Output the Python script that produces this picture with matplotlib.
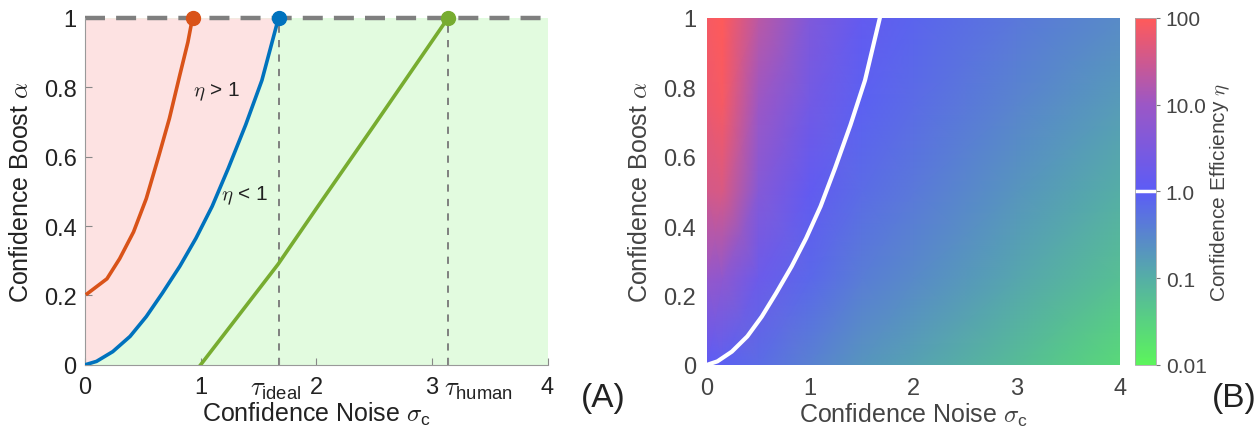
import numpy as np
import matplotlib
matplotlib.use("Agg")
import matplotlib.pyplot as plt
from matplotlib.colors import LinearSegmentedColormap, LogNorm

plt.rcParams['font.family'] = ['Liberation Sans', 'DejaVu Sans']
plt.rcParams['mathtext.fontset'] = 'cm'

# ---------------- data ----------------
# Panel A: boundary curves (sigma_c, alpha)
red_sigma = [0.02, 0.19, 0.30, 0.42, 0.53, 0.64, 0.73, 0.82, 0.89, 0.93]
red_alpha = [0.205, 0.248, 0.306, 0.383, 0.479, 0.604, 0.71, 0.835, 0.93, 1.0]
blue_sigma = [0.0, 0.10, 0.24, 0.39, 0.53, 0.67, 0.82, 0.96, 1.10, 1.24, 1.39, 1.53, 1.674]
blue_alpha = [0.0, 0.01, 0.038, 0.082, 0.139, 0.207, 0.284, 0.365, 0.457, 0.567, 0.692, 0.82, 1.0]
green_sigma = [1.0, 1.67, 2.0, 2.5, 3.14]
green_alpha = [0.0, 0.29, 0.45, 0.69, 1.0]
tau_ideal = 1.674
tau_human = 3.14
x_ticks = [0, 1, 2, 3, 4]
y_ticks = [0, 0.2, 0.4, 0.6, 0.8, 1]
y_ticklabels = ['0', '0.2', '0.4', '0.6', '0.8', '1']

# Panel B: log10 confidence efficiency on a coarse grid
grid_sigma = [0.0, 0.15, 0.5, 1.0, 1.5, 2.0, 3.0, 4.0]
grid_alpha = [0.0, 0.25, 0.5, 0.75, 1.0]
log_eta = [
    [0.0, -0.05, -0.2, -0.45, -0.7, -0.85, -1.2, -1.6],
    [0.9, 0.8, 0.25, -0.15, -0.4, -0.55, -0.9, -1.25],
    [1.55, 1.6, 0.65, 0.1, -0.2, -0.35, -0.7, -1.0],
    [1.8, 1.9, 1.0, 0.35, -0.05, -0.2, -0.5, -0.78],
    [1.9, 2.0, 1.3, 0.55, 0.12, -0.1, -0.33, -0.57],
]
cbar_ticks = [0.01, 0.1, 1.0, 10.0, 100]
cbar_ticklabels = ['0.01', '0.1', '1.0', '10.0', '100']

# ---------------- figure ----------------
fig = plt.figure(figsize=(12.57, 4.35), dpi=100)
axA = fig.add_axes([0.0676, 0.159, 0.368, 0.7977])
axB = fig.add_axes([0.5625, 0.159, 0.3285, 0.7977])
cax = fig.add_axes([0.903, 0.159, 0.0167, 0.7977])

RED = '#D95319'
BLUE = '#0072BD'
GREEN = '#77AC30'
PINK = '#FDE2E2'
LGREEN = '#E2FBDF'
TXT = '#222222'

# ---- Panel A ----
axA.fill_between([0, 4], 0, 1, color=LGREEN, zorder=0, lw=0)
axA.fill_betweenx(blue_alpha, 0, blue_sigma, color=PINK, zorder=0.5, lw=0)
axA.axvline(tau_ideal, color='#777777', ls=(0, (4, 4)), lw=1.3, zorder=1)
axA.axvline(tau_human, color='#777777', ls=(0, (4, 4)), lw=1.3, zorder=1)
axA.plot([0, 4], [1, 1], color='#7f7f7f', ls=(0, (4.5, 2.5)), lw=3.2, zorder=2, clip_on=False)
axA.plot(red_sigma, red_alpha, color=RED, lw=2.6, zorder=3)
axA.plot(blue_sigma, blue_alpha, color=BLUE, lw=2.6, zorder=3)
axA.plot(green_sigma, green_alpha, color=GREEN, lw=2.6, zorder=3)
for xs, ys, c in [(red_sigma, red_alpha, RED), (blue_sigma, blue_alpha, BLUE),
                  (green_sigma, green_alpha, GREEN)]:
    axA.plot(xs[-1], ys[-1], 'o', color=c, ms=10, zorder=4, clip_on=False)
axA.set_xlim(0, 4)
axA.set_ylim(0, 1)
axA.set_xticks(x_ticks + [tau_ideal, tau_human])
axA.set_xticklabels([str(t) for t in x_ticks] + ['', ''])
axA.set_yticks(y_ticks)
axA.set_yticklabels(y_ticklabels)
axA.tick_params(direction='in', length=5, color='#888888', labelsize=17, labelcolor=TXT)
axA.tick_params(axis='x', pad=8)
axA.tick_params(axis='y', pad=6)
for s in ['top', 'right']:
    axA.spines[s].set_visible(False)
for s in ['left', 'bottom']:
    axA.spines[s].set_color('#999999')
    axA.spines[s].set_linewidth(0.8)
axA.annotate(r'$\tau_{\mathregular{ideal}}$', xy=(tau_ideal, 0), xycoords='data',
             xytext=(-2, -8.5), textcoords='offset points', ha='center', va='top',
             fontsize=19, color=TXT)
axA.annotate(r'$\tau_{\mathregular{human}}$', xy=(tau_human, 0), xycoords='data',
             xytext=(-3, -8.5), textcoords='offset points', ha='left', va='top',
             fontsize=19, color=TXT)
axA.text(0.93, 0.79, r'$\eta$ > 1', fontsize=15, color=TXT, va='center')
axA.text(1.18, 0.49, r'$\eta$ < 1', fontsize=15, color=TXT, va='center')
axA.set_xlabel(r'Confidence Noise $\sigma_{\mathregular{c}}$', fontsize=18, color=TXT, labelpad=1)
axA.set_ylabel(r'Confidence Boost $\alpha$', fontsize=18, color=TXT, labelpad=8)
fig.text(0.462, 0.048, '(A)', fontsize=24, color=TXT, ha='left', va='bottom')

# ---- Panel B ----
cmap = LinearSegmentedColormap.from_list('eff', [
    (0.0, '#5CF45C'), (0.25, '#55AEA6'), (0.5, '#5C5CF6'),
    (0.75, '#9B57C6'), (1.0, '#FF5A5A')])
norm = LogNorm(vmin=0.01, vmax=100)
S, A = np.meshgrid(grid_sigma, grid_alpha)
eta = 10.0 ** np.array(log_eta)
mesh = axB.pcolormesh(S, A, eta, cmap=cmap, norm=norm, shading='gouraud', rasterized=True)
axB.plot(blue_sigma, blue_alpha, color='white', lw=3, zorder=3)
axB.set_xlim(0, 4)
axB.set_ylim(0, 1)
axB.set_xticks(x_ticks)
axB.set_yticks(y_ticks)
axB.set_yticklabels(y_ticklabels)
GR = '#444444'
axB.tick_params(length=0, labelsize=17, labelcolor=GR)
axB.tick_params(axis='x', pad=9)
axB.tick_params(axis='y', pad=8)
for s in axB.spines.values():
    s.set_visible(False)
axB.set_xlabel(r'Confidence Noise $\sigma_{\mathregular{c}}$', fontsize=18, color=GR, labelpad=1)
axB.set_ylabel(r'Confidence Boost $\alpha$', fontsize=18, color=GR, labelpad=8)

cb = fig.colorbar(mesh, cax=cax)
cb.set_ticks(cbar_ticks)
cb.set_ticklabels(cbar_ticklabels)
cb.ax.minorticks_off()
cb.ax.tick_params(labelsize=15, labelcolor=GR, length=3, color='#777777', pad=4)
cb.outline.set_edgecolor('#aaaaaa')
cb.outline.set_linewidth(0.6)
cb.ax.axhline(1.0, color='white', lw=2.5)
cb.set_label(r'Confidence Efficiency $\eta$', fontsize=15, color=GR, labelpad=1)
fig.text(0.964, 0.048, '(B)', fontsize=24, color=TXT, ha='left', va='bottom')

fig.savefig('out.png', dpi=100)
